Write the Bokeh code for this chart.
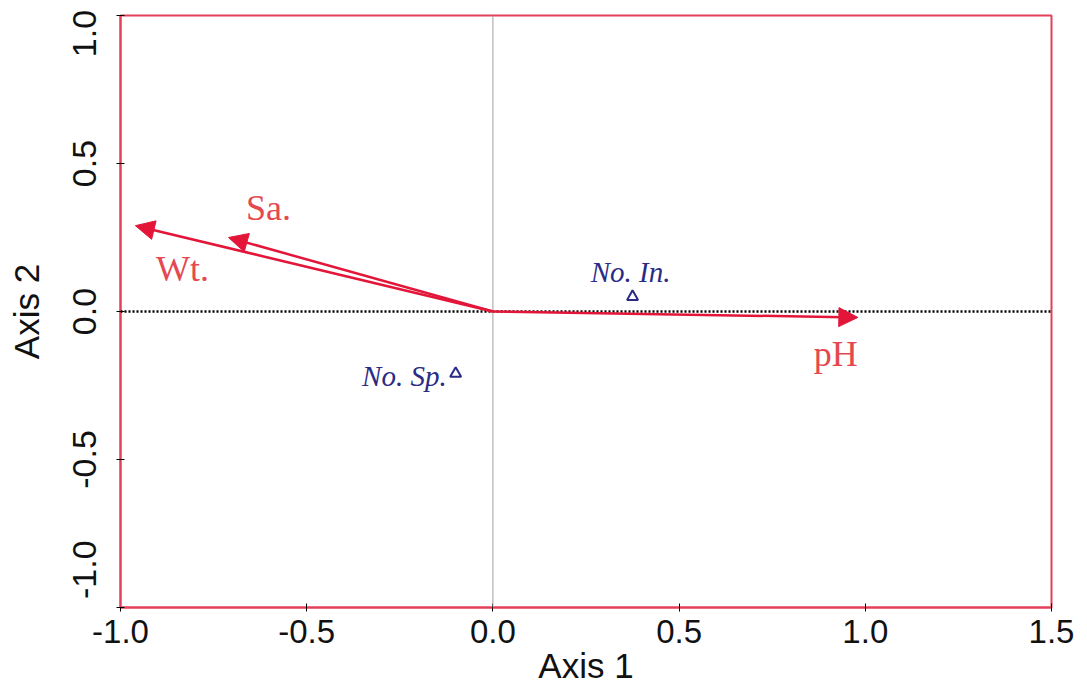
from bokeh.plotting import figure
from bokeh.models import Range1d, Arrow, NormalHead, ColumnDataSource, Span, FixedTicker
from bokeh.core.properties import value
from bokeh.embed import file_html
from bokeh.resources import INLINE

# ---- data ----
env_names = ["Wt.", "Sa.", "pH"]
env_x = [-0.96, -0.71, 0.98]
env_y = [0.29, 0.25, -0.02]

sp_names = ["No. In.", "No. Sp."]
sp_x = [0.375, -0.10]
sp_y = [0.05, -0.21]

x_ticks = [-1.0, -0.5, 0.0, 0.5, 1.0, 1.5]
y_ticks = [-1.0, -0.5, 0.0, 0.5, 1.0]
x_title = "Axis 1"
y_title = "Axis 2"

# ---- style ----
RED = "#e3163a"
RED_TXT = "#e5484f"
FRAME = "#e4405a"
BLUE = "#2b2b86"

W, H = 1079, 687
p = figure(width=W, height=H, output_backend="svg", toolbar_location=None,
           x_range=Range1d(-1.0, 1.5), y_range=Range1d(-1.0, 1.0),
           min_border_left=120, min_border_right=W - 1051, min_border_top=15,
           min_border_bottom=H - 608)
p.grid.visible = False
p.background_fill_color = "white"
p.border_fill_color = "white"
p.outline_line_color = FRAME
p.outline_line_width = 2

for ax in (p.xaxis, p.yaxis):
    ax.axis_line_color = FRAME
    ax.axis_line_width = 2
    ax.major_tick_line_color = "black"
    ax.major_tick_in = 4
    ax.major_tick_out = 4
    ax.minor_tick_line_color = None
    ax.major_label_text_font = "Liberation Sans"
    ax.major_label_text_color = "#111111"
    ax.axis_label_text_font = "Liberation Sans"
    ax.axis_label_text_font_style = "normal"
    ax.axis_label_text_color = "#111111"

p.xaxis.ticker = FixedTicker(ticks=x_ticks)
p.yaxis.ticker = FixedTicker(ticks=y_ticks)
p.xaxis.major_label_overrides = {t: f"{t:.1f}" for t in x_ticks}
yo = {t: f"{t:.1f}" for t in y_ticks}
yo[1.0] = "1.0" + "\u00a0"
yo[-1.0] = "\u00a0" * 8 + "-1.0"
p.yaxis.major_label_overrides = yo
p.xaxis.major_label_text_font_size = "33px"
p.yaxis.major_label_text_font_size = "34px"
p.yaxis.major_label_orientation = "vertical"
p.xaxis.major_label_standoff = 8
p.yaxis.major_label_standoff = 14
p.xaxis.axis_label = x_title
p.yaxis.axis_label = y_title
p.xaxis.axis_label_text_font_size = "35px"
p.yaxis.axis_label_text_font_size = "35px"
p.xaxis.axis_label_standoff = 0
p.yaxis.axis_label_standoff = 16

# reference lines
p.add_layout(Span(location=0, dimension="width", line_color="black", line_width=2.5, line_dash="2 2"))
p.add_layout(Span(location=0, dimension="height", line_color="#a0a0a0", line_width=1))

# arrows
asrc = ColumnDataSource(dict(x0=[0.0] * len(env_x), y0=[0.0] * len(env_y), x1=env_x, y1=env_y))
p.add_layout(Arrow(source=asrc, x_start="x0", y_start="y0", x_end="x1", y_end="y1",
                   line_color=RED, line_width=2.5,
                   end=NormalHead(size=19, fill_color=RED, line_color=RED, line_width=1)))

# arrow labels
env_dx = [47, 40, -22]
env_dy = [43, -30, 37]
p.text(x=env_x, y=env_y, text=env_names, x_offset=env_dx, y_offset=env_dy,
       text_align="center", text_baseline="middle", text_color=RED_TXT,
       text_font=value("Liberation Serif"), text_font_size="36px")

# species points
p.scatter(x=sp_x, y=sp_y, marker="triangle", size=11, fill_color=None,
          line_color=BLUE, line_width=2)
p.text(x=[sp_x[0]], y=[sp_y[0]], text=[sp_names[0]], x_offset=[-2], y_offset=[-25],
       text_align="center", text_baseline="middle", text_color=BLUE,
       text_font=value("Liberation Serif"), text_font_style="italic", text_font_size="29px")
p.text(x=[sp_x[1]], y=[sp_y[1]], text=[sp_names[1]], x_offset=[-9], y_offset=[2],
       text_align="right", text_baseline="middle", text_color=BLUE,
       text_font=value("Liberation Serif"), text_font_style="italic", text_font_size="29px")

open("out.html", "w").write(file_html(p, INLINE))
